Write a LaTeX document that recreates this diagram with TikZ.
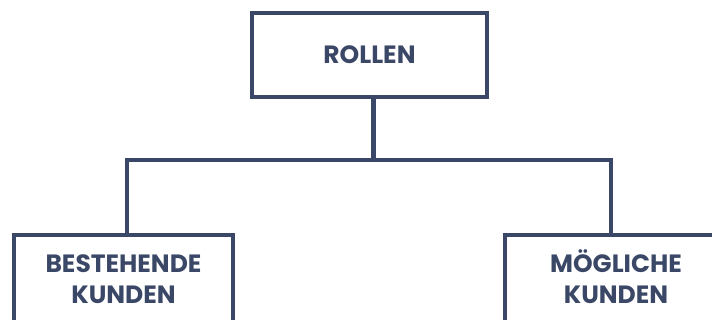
\documentclass[tikz,border=0pt]{standalone}
\usepackage{fontspec}
\setmainfont{Poppins}[BoldFont={Poppins Bold}]
\definecolor{navy}{RGB}{58,71,102}
\tikzset{
  role/.style={draw=navy, line width=3.2pt, fill=white, text=navy,
    font=\bfseries\fontsize{25}{31}\selectfont, align=center,
    inner sep=0pt, outer sep=0pt},
  link/.style={draw=navy, line width=3.2pt}
}
\begin{document}
\begin{tikzpicture}[x=1pt, y=-1pt]
  \useasboundingbox (0,0) rectangle (712,320);
  \clip (0,0) rectangle (712,320);
  % top box
  \node[role, minimum width=235pt, minimum height=84pt] (top) at (369.5,55) {\raisebox{1.5pt}{ROLLEN}};
  % bottom boxes, running off the lower edge
  \node[role, minimum width=219pt, minimum height=88pt] (left) at (123.5,279) {BESTEHENDE\\KUNDEN};
  \node[role, minimum width=222pt, minimum height=88pt] (right) at (616,279) {M\smash{Ö}GLICHE\\KUNDEN};
  % junction points of the tree
  \coordinate (j) at (373,160);
  \coordinate (jl) at (127,160);
  \coordinate (jr) at (611,160);
  % connectors
  \draw[link, line width=5pt] (top.south -| j) -- (j);
  \draw[link, line cap=rect] (jl) -- (jr);
  \draw[link] (jl) -- (jl |- left.north);
  \draw[link] (jr) -- (jr |- right.north);
\end{tikzpicture}
\end{document}
